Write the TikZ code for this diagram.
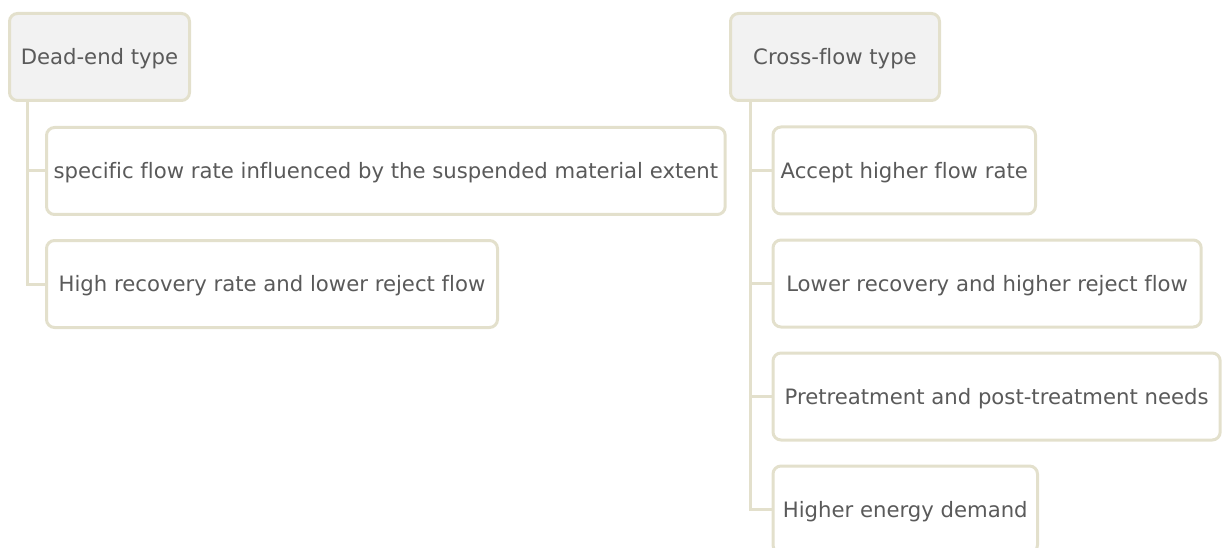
\documentclass[tikz,border=0pt]{standalone}
\usepackage{fontspec}
\setmainfont{DejaVu Sans}[Ligatures=CommonOff]
\definecolor{edge}{HTML}{E3E0CC}
\definecolor{headfill}{HTML}{F2F2F2}
\definecolor{ink}{HTML}{5A5A5A}
\tikzset{
  box/.style={draw=edge, line width=3pt, rounded corners=8pt, fill=white,
    minimum height=87pt, inner sep=0pt, outer sep=0pt, anchor=west,
    text height=20pt, text depth=4.4pt,
    text=ink, font=\fontsize{21.2pt}{25pt}\selectfont},
  headbox/.style={box, fill=headfill},
  conn/.style={draw=edge, line width=3pt}
}
\begin{document}
\begin{tikzpicture}[x=1pt,y=-1pt]
\useasboundingbox (0,0) rectangle (1223,548);
\clip (0,0) rectangle (1223,548);

% dead-end branch
\node[headbox, minimum width=180pt] (dh) at (9.5,57) {Dead-end type};
\node[box, minimum width=678.7pt] (d1) at (46.5,171) {specific flow rate influenced by the suspended material extent};
\node[box, minimum width=451pt] (d2) at (46.5,284) {High recovery rate and lower reject flow};

% cross-flow branch
\node[headbox, minimum width=209pt] (ch) at (730.5,57) {Cross-flow type};
\node[box, minimum width=262.5pt] (c1) at (773,170.5) {Accept higher flow rate};
\node[box, minimum width=428.2pt] (c2) at (773,283.5) {Lower recovery and higher reject flow};
\node[box, minimum width=447.2pt] (c3) at (773,396.5) {Pretreatment and post-treatment needs};
\node[box, minimum width=264.5pt] (c4) at (773,509.5) {Higher energy demand};

% tree connectors
\foreach \c in {d1,d2}
  \draw[conn] ([xshift=17.5pt]dh.south west) |- (\c.west);
\foreach \c in {c1,c2,c3,c4}
  \draw[conn] ([xshift=20pt]ch.south west) |- (\c.west);
\end{tikzpicture}
\end{document}
